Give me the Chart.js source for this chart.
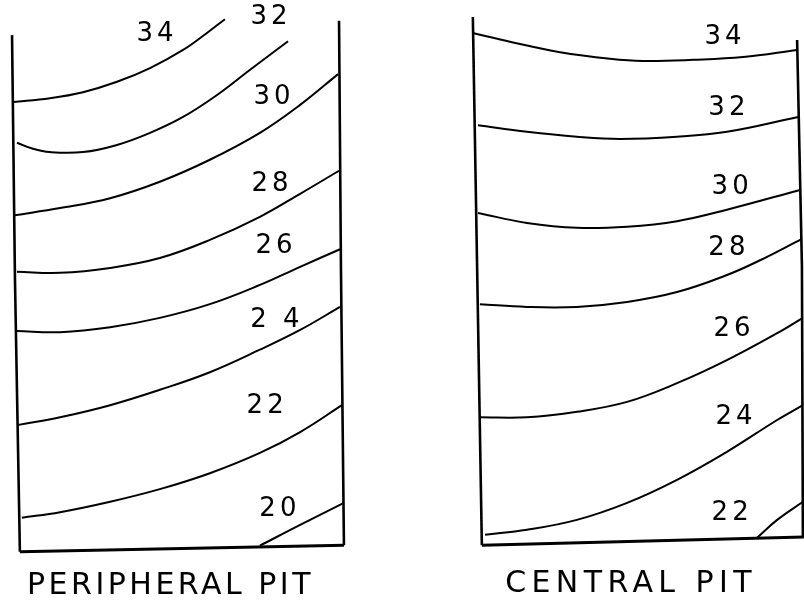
<!DOCTYPE html>
<html>
<head>
<meta charset="utf-8">
<script src="https://cdn.jsdelivr.net/npm/chart.js@4.4.1/dist/chart.umd.min.js"></script>
<style>
html,body{margin:0;padding:0;background:#fff;width:804px;height:601px;overflow:hidden}
canvas{position:absolute;top:0}
#periph{left:0}
#central{left:404px}
</style>
</head>
<body>
<canvas id="periph" width="400" height="601"></canvas>
<canvas id="central" width="400" height="601"></canvas>
<script>
// ---------- PERIPHERAL PIT (x: 0 = left wall, 100 = right wall; y: 0 = floor) ----------
const periphLevels = ['34', '32', '30', '28', '26', '2 4', '22', '20'];
const periph34 = [[-0.3,81.4],[11.0,82.1],[21.1,83.2],[31.5,85.1],[41.6,87.6],[51.7,90.9],[59.0,94.0],[64.5,96.5]];
const periph32 = [[0.9,74.0],[5.8,72.9],[11.0,72.3],[21.1,72.3],[31.5,73.6],[41.6,75.8],[51.7,78.7],[62.1,82.7],[72.2,87.3],[83.8,92.5]];
const periph30 = [[0.3,60.8],[14.1,62.1],[29.4,63.9],[44.6,66.9],[59.9,70.9],[75.2,75.8],[87.5,80.9],[99.1,86.5]];
const periph28 = [[0.9,50.5],[14.1,50.3],[29.4,51.2],[44.6,53.0],[59.9,56.3],[75.2,60.5],[87.5,64.7],[99.4,68.9]];
const periph26 = [[0.9,39.7],[14.1,39.5],[29.4,40.4],[44.6,42.1],[59.9,44.6],[75.2,48.1],[87.5,51.4],[99.7,54.6]];
const periph24 = [[1.2,22.6],[14.1,24.0],[29.4,26.2],[44.6,29.0],[59.9,32.2],[75.2,36.3],[87.5,39.9],[99.7,44.1]];
const periph22 = [[2.4,5.7],[14.1,6.7],[29.4,8.6],[44.6,10.9],[59.9,13.8],[75.2,17.5],[87.5,21.3],[100.3,26.2]];
const periph20 = [[75.2,0.6],[87.5,4.4],[100.9,8.4]];
const periphWallLeft  = [[1.8,-0.5],[0.3,49.0],[-0.6,93.6]];
const periphWallRight = [[100.9,0.7],[100.0,50.3],[99.4,96.2]];
const periphFloor     = [[1.8,-0.5],[100.9,0.7]];
const periphLabelX = [43.1, 78.0, 78.9, 78.3, 79.5, 79.8, 76.8, 80.7];
const periphLabelY = [93.8, 96.9, 82.3, 66.5, 55.2, 41.7, 26.0, 7.3];

// ---------- CENTRAL PIT ----------
const centralLevels = ['34', '32', '30', '28', '26', '24', '22'];
const central34 = [[-1.6,94.0],[9.9,92.4],[25.5,90.5],[41.0,89.3],[51.2,88.9],[66.8,89.1],[82.3,89.6],[99.1,90.9]];
const central32 = [[0.0,77.2],[15.2,76.0],[30.7,75.1],[44.1,74.7],[61.8,75.1],[77.3,76.0],[99.4,78.7]];
const central30 = [[0.0,61.2],[15.2,59.4],[30.7,58.5],[46.3,58.7],[61.8,59.7],[77.3,61.8],[100.0,65.4]];
const central28 = [[0.6,44.6],[15.2,44.1],[30.7,44.1],[46.3,45.0],[61.8,46.8],[77.3,49.9],[87.6,52.6],[100.6,56.5]];
const central26 = [[0.6,24.0],[15.2,24.0],[30.7,25.0],[46.3,26.8],[61.8,30.2],[77.3,34.4],[92.9,39.3],[100.9,42.1]];
const central24 = [[2.2,2.6],[15.2,3.5],[30.7,5.3],[46.3,8.4],[61.8,12.6],[77.3,17.7],[92.9,23.5],[100.9,26.2]];
const central22 = [[86.6,2.0],[92.9,5.3],[100.9,8.6]];
const centralWallLeft  = [[1.2,0.7],[-1.6,96.9]];
const centralWallRight = [[100.9,2.2],[100.6,51.4],[99.1,92.7]];
const centralFloor     = [[1.2,0.7],[101.2,2.2]];
const centralLabelX = [76.1, 77.3, 78.3, 77.3, 78.9, 79.5, 78.3];
const centralLabelY = [93.3, 80.3, 65.9, 54.8, 40.1, 24.0, 6.6];

// ---------- drawing ----------
const toPts = arr => arr.map(p => ({x: p[0], y: p[1]}));

const contourLabels = {
  id: 'contourLabels',
  beforeDraw(chart, args, opts) {
    chart.ctx.letterSpacing = opts.titleSpacing + 'px';
  },
  afterDatasetsDraw(chart, args, opts) {
    const ctx = chart.ctx, xs = chart.scales.x, ys = chart.scales.y;
    ctx.save();
    ctx.letterSpacing = opts.spacing + 'px';
    ctx.font = '26px "DejaVu Sans"';
    ctx.fillStyle = '#000';
    ctx.textAlign = 'center';
    ctx.textBaseline = 'middle';
    opts.texts.forEach((t, i) => {
      ctx.fillText(t, xs.getPixelForValue(opts.xs[i]) + opts.spacing / 2, ys.getPixelForValue(opts.ys[i]));
    });
    ctx.restore();
  }
};

function buildPit(id, p) {
  const datasets = [];
  [p.wallLeft, p.wallRight].forEach(w => datasets.push({
    data: toPts(w), borderColor: '#000', borderWidth: 2.6, pointRadius: 0, tension: 0, showLine: true, clip: false
  }));
  datasets.push({data: toPts(p.floor), borderColor: '#000', borderWidth: 3, pointRadius: 0, tension: 0, showLine: true, clip: false});
  p.lines.forEach((l, i) => datasets.push({
    label: p.levels[i], data: toPts(l), borderColor: '#000', borderWidth: 2, pointRadius: 0,
    showLine: true, tension: 0.4, clip: false
  }));
  return new Chart(document.getElementById(id), {
    type: 'scatter',
    data: {datasets},
    plugins: [contourLabels],
    options: {
      responsive: false, animation: false, events: [],
      layout: {padding: {left: p.padL, right: p.padR, top: 0, bottom: 0}, autoPadding: false},
      scales: {
        x: {type: 'linear', min: p.xMin, max: p.xMax, display: false},
        y: {type: 'linear', min: 0, max: 100, display: false}
      },
      plugins: {
        legend: {display: false},
        tooltip: {enabled: false},
        title: {
          display: true, position: 'bottom', text: p.title, color: '#000',
          font: {family: 'DejaVu Sans', size: 30, weight: 'normal', lineHeight: 1},
          padding: {top: p.titleTop, bottom: p.titleBottom}
        },
        contourLabels: {texts: p.levels, xs: p.labelX, ys: p.labelY, spacing: 4, titleSpacing: p.titleSpacing}
      }
    }
  });
}

buildPit('periph', {
  title: 'PERIPHERAL PIT', levels: periphLevels,
  lines: [periph34, periph32, periph30, periph28, periph26, periph24, periph22, periph20],
  wallLeft: periphWallLeft, wallRight: periphWallRight, floor: periphFloor,
  labelX: periphLabelX, labelY: periphLabelY,
  padL: 0, padR: 59, xMin: -4.28, xMax: 100, titleTop: 22, titleBottom: 0, titleSpacing: 3.5
});
buildPit('central', {
  title: 'CENTRAL PIT', levels: centralLevels,
  lines: [central34, central32, central30, central28, central26, central24, central22],
  wallLeft: centralWallLeft, wallRight: centralWallRight, floor: centralFloor,
  labelX: centralLabelX, labelY: centralLabelY,
  padL: 54, padR: 0, xMin: -6.21, xMax: 101.24, titleTop: 20, titleBottom: 2, titleSpacing: 5.4
});
</script>
</body>
</html>
